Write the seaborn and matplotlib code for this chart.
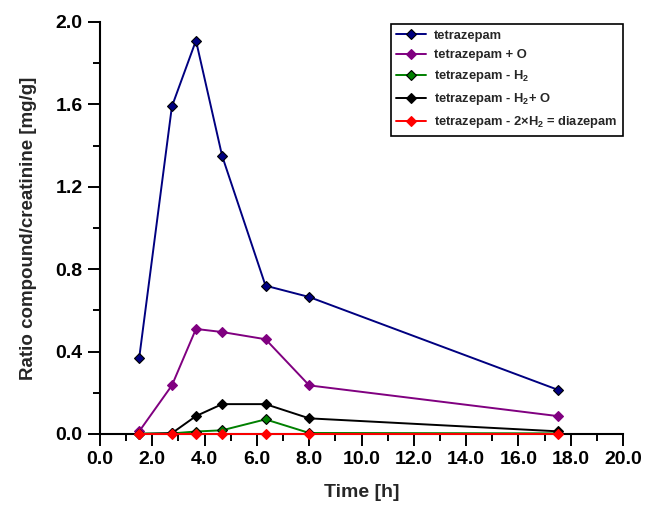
import matplotlib
matplotlib.use("Agg")
import matplotlib.pyplot as plt
from matplotlib.ticker import MultipleLocator, FormatStrFormatter
import seaborn as sns
import numpy as np

# Daten
time_h = [1.5, 2.75, 3.67, 4.67, 6.33, 8.0, 17.5]
tetrazepam = [0.37, 1.59, 1.91, 1.35, 0.72, 0.665, 0.215]
tetrazepam_plus_o = [0.013, 0.236, 0.51, 0.495, 0.46, 0.236, 0.087]
tetrazepam_minus_h2 = [0.002, 0.003, 0.012, 0.018, 0.071, 0.005, 0.003]
tetrazepam_minus_h2_plus_o = [0.0, 0.004, 0.087, 0.145, 0.145, 0.076, 0.013]
diazepam = [0.001, 0.001, 0.001, 0.001, 0.001, 0.001, 0.001]

labels = ["tetrazepam", "tetrazepam + O", "tetrazepam - H$_2$",
          "tetrazepam - H$_2$+ O", "tetrazepam - 2×H$_2$ = diazepam"]
colors = ["#000080", "#800080", "#008000", "#000000", "#ff0000"]
edge_colors = ["#000000", "#800080", "#000000", "#000000", "#ff0000"]
series = [tetrazepam, tetrazepam_plus_o, tetrazepam_minus_h2,
          tetrazepam_minus_h2_plus_o, diazepam]

sns.set_style("ticks")
plt.rcParams["font.family"] = ["Liberation Sans", "DejaVu Sans"]
plt.rcParams["font.weight"] = "bold"
plt.rcParams["axes.labelweight"] = "bold"
plt.rcParams["mathtext.fontset"] = "custom"
plt.rcParams["mathtext.rm"] = "Liberation Sans:bold"
plt.rcParams["mathtext.bf"] = "Liberation Sans:bold"
plt.rcParams["mathtext.default"] = "bf"

fig, ax = plt.subplots(figsize=(6.46, 5.05), dpi=100)
fig.subplots_adjust(left=100 / 646, right=623 / 646,
                    bottom=71 / 505, top=483 / 505)

for vals, lab, c, ec in zip(series, labels, colors, edge_colors):
    sns.lineplot(x=time_h, y=vals, ax=ax, color=c, label=lab, marker="D",
                 markersize=5.5, markeredgecolor=ec, markeredgewidth=0.8,
                 linewidth=1.4, clip_on=False, zorder=3)

ax.set_xlim(0, 20)
ax.set_ylim(0, 2.0)
ax.xaxis.set_major_locator(MultipleLocator(2))
ax.xaxis.set_minor_locator(MultipleLocator(1))
ax.yaxis.set_major_locator(MultipleLocator(0.4))
ax.yaxis.set_minor_locator(MultipleLocator(0.2))
ax.xaxis.set_major_formatter(FormatStrFormatter("%.1f"))
ax.yaxis.set_major_formatter(FormatStrFormatter("%.1f"))

ax.tick_params(which="major", length=8.5, width=1.4, labelsize=14, pad=4,
               color="black", labelcolor="black")
ax.tick_params(which="minor", length=5, width=1.4, color="black")
for lbl in ax.get_xticklabels() + ax.get_yticklabels():
    lbl.set_fontweight("bold")

sns.despine(ax=ax)
for sp in ["left", "bottom"]:
    ax.spines[sp].set_linewidth(1.5)
    ax.spines[sp].set_color("black")

ax.set_xlabel("Time [h]", fontsize=14, fontweight="bold", labelpad=11)
ax.set_ylabel("Ratio compound/creatinine [mg/g]", fontsize=13.5,
              fontweight="bold", labelpad=13)

leg = ax.legend(loc="upper right", bbox_to_anchor=(1.0, 0.995), borderaxespad=0,
                frameon=True, fancybox=False, framealpha=1,
                edgecolor="black", handlelength=2.3, handletextpad=0.6,
                labelspacing=0.55, borderpad=0.45, prop={"weight": "bold", "size": 9.3})
leg.get_frame().set_linewidth(1.2)

fig.savefig("out.png", dpi=100)
